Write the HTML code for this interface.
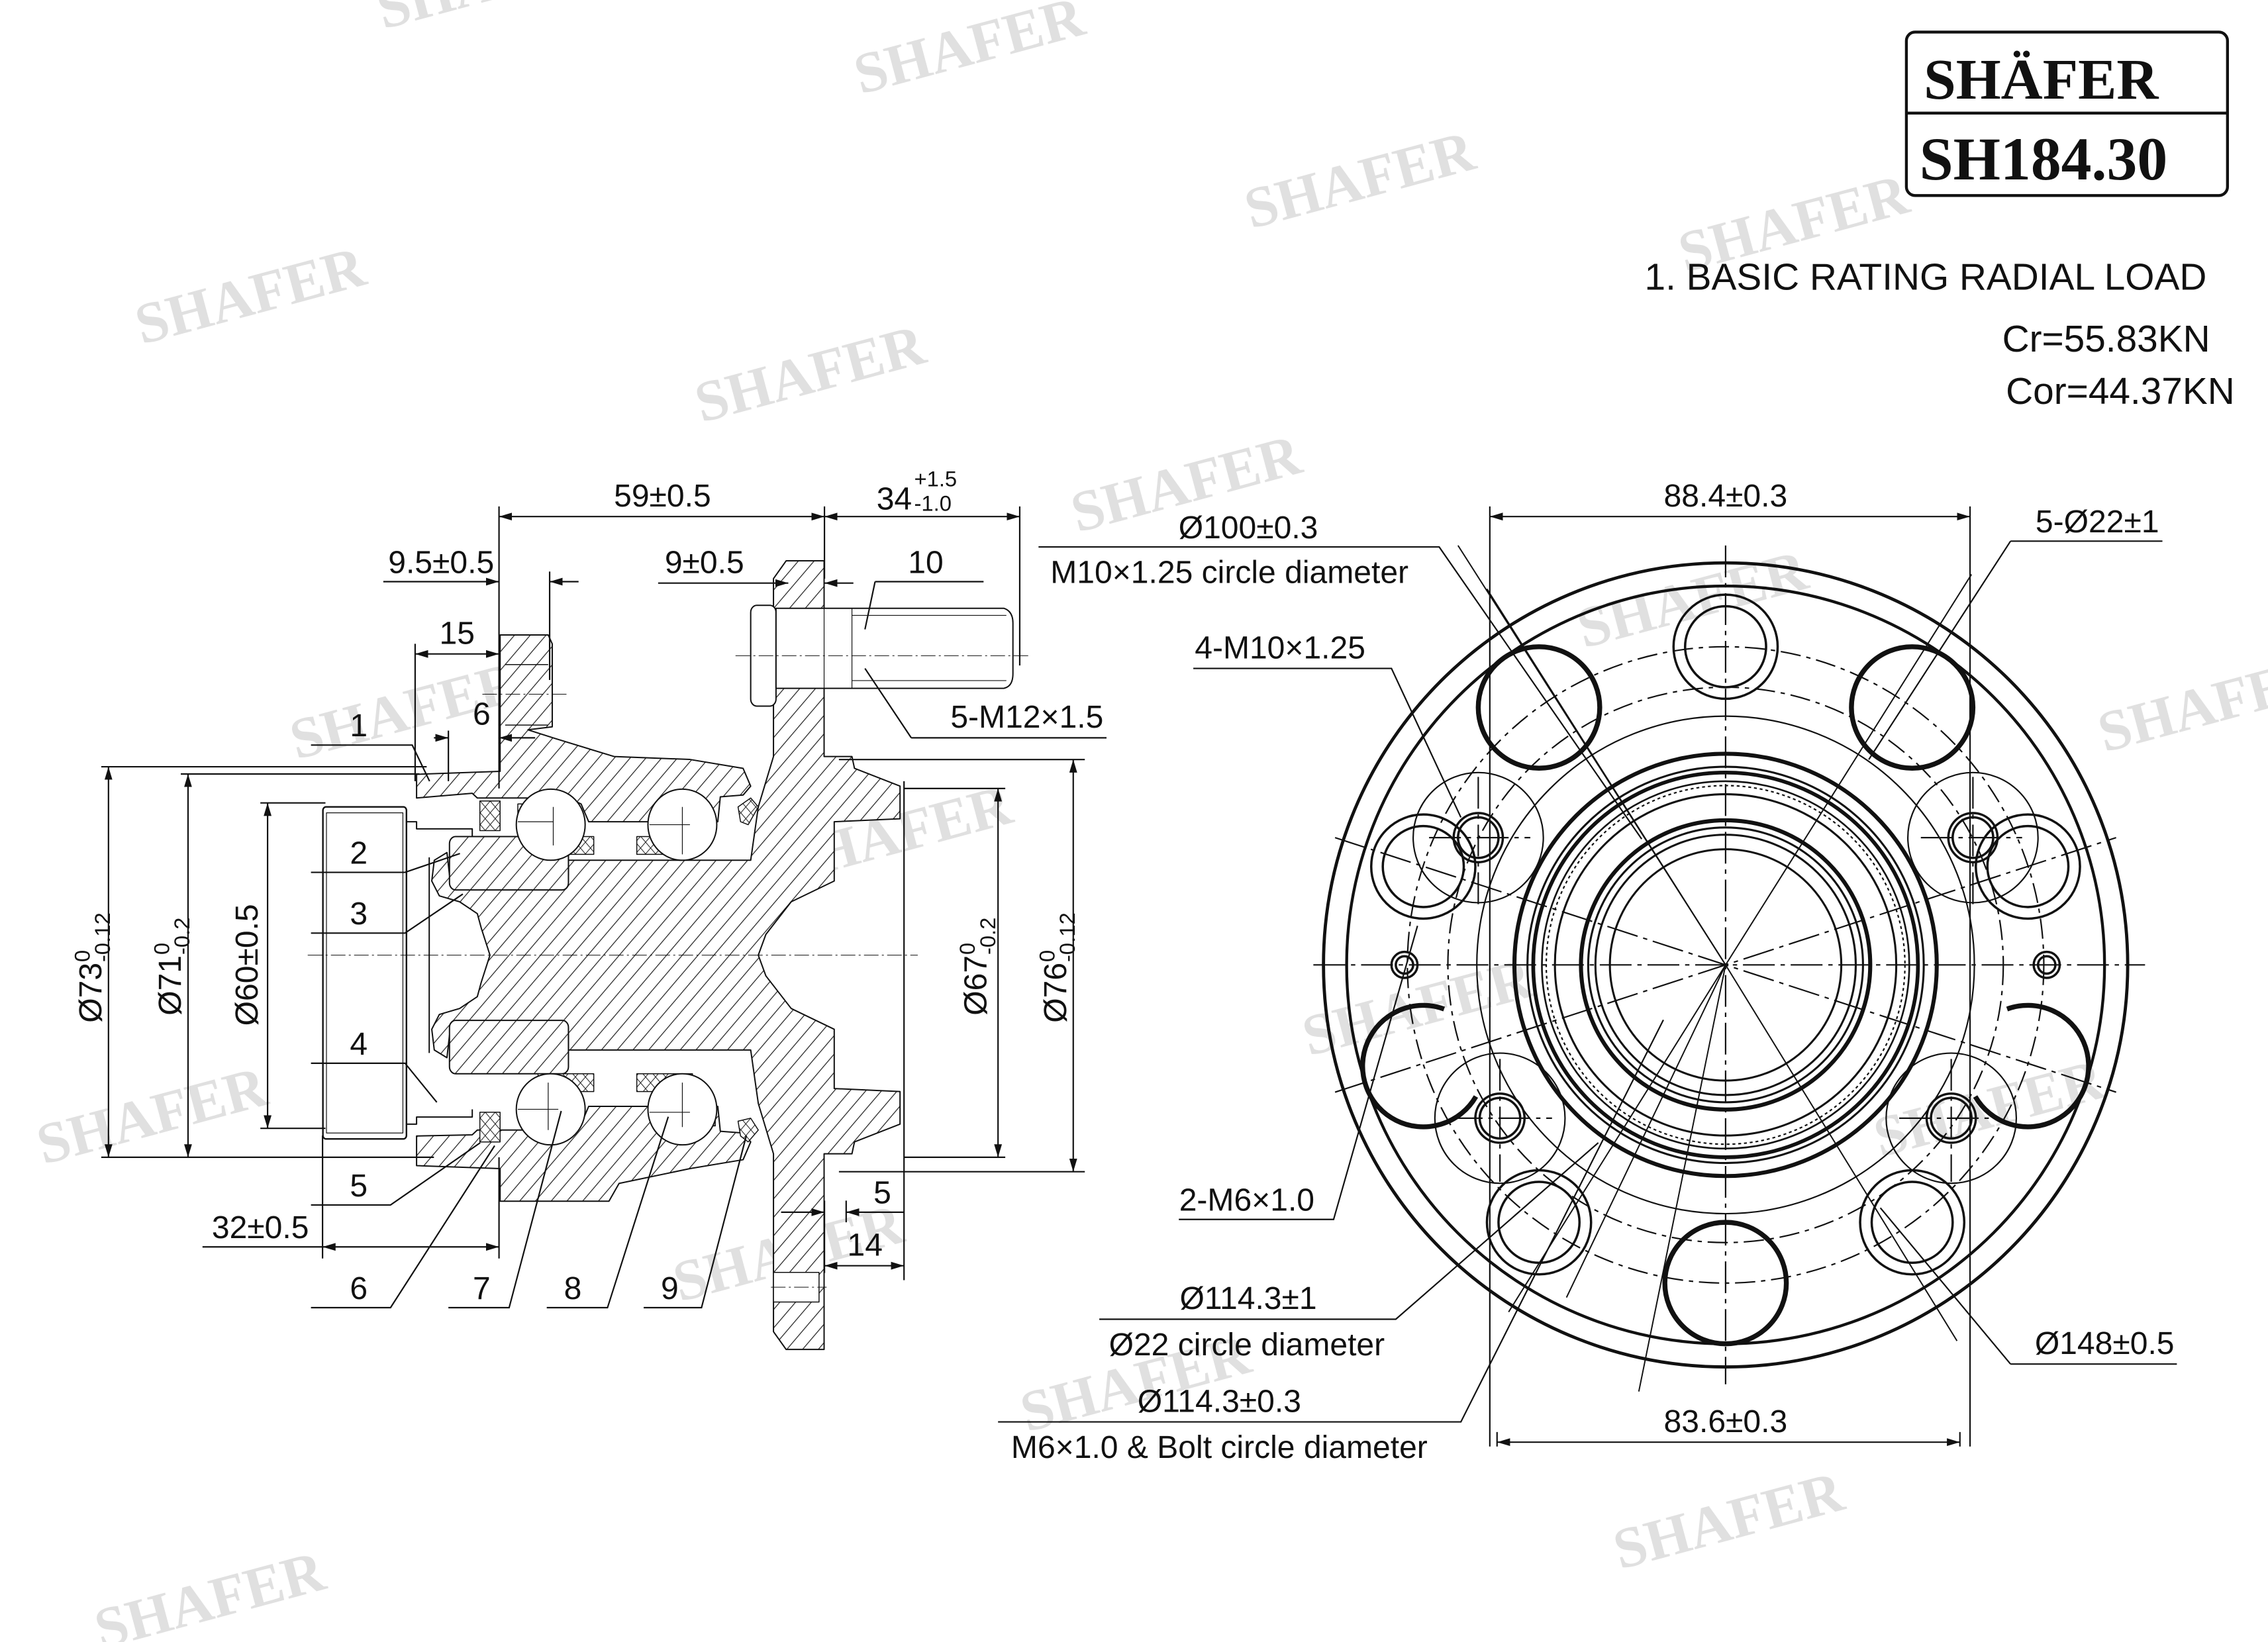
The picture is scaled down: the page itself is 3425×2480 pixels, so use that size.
<!DOCTYPE html>
<html><head><meta charset="utf-8"><style>
html,body{margin:0;padding:0;background:#fff}
svg{display:block}
text{font-family:"Liberation Sans",sans-serif;fill:#111}
text.wm{font-family:"Liberation Serif",serif;font-weight:bold;fill:#e0e0e0;font-size:40px}
</style></head><body>
<svg xmlns="http://www.w3.org/2000/svg" width="3425" height="2480" viewBox="0 0 1568 1135">
<defs>
<pattern id="h" patternUnits="userSpaceOnUse" width="22" height="22" patternTransform="rotate(45)">
<rect width="22" height="22" fill="#fff"/><line x1="0" y1="0" x2="0" y2="22" stroke="#222" stroke-width="3"/></pattern>
<pattern id="x" patternUnits="userSpaceOnUse" width="14" height="14" patternTransform="rotate(45)">
<rect width="14" height="14" fill="#fff"/><line x1="0" y1="0" x2="0" y2="14" stroke="#222" stroke-width="2.5"/><line x1="0" y1="0" x2="14" y2="0" stroke="#222" stroke-width="2.5"/></pattern>
<marker id="a" viewBox="0 0 10 10" refX="10" refY="5" markerWidth="9" markerHeight="9" markerUnits="userSpaceOnUse" orient="auto-start-reverse"><path d="M0,2 L10,5 L0,8 z" fill="#111"/></marker>
</defs>
<rect width="1568" height="1135" fill="#fff"/>

<!-- watermarks -->
<g>
<text class="wm" x="265" y="20" transform="rotate(-15 265 20)">SHAFER</text>
<text class="wm" x="595" y="65" transform="rotate(-15 595 65)">SHAFER</text>
<text class="wm" x="865" y="158" transform="rotate(-15 865 158)">SHAFER</text>
<text class="wm" x="98" y="238" transform="rotate(-15 98 238)">SHAFER</text>
<text class="wm" x="485" y="292" transform="rotate(-15 485 292)">SHAFER</text>
<text class="wm" x="745" y="368" transform="rotate(-15 745 368)">SHAFER</text>
<text class="wm" x="1165" y="188" transform="rotate(-15 1165 188)">SHAFER</text>
<text class="wm" x="1095" y="448" transform="rotate(-15 1095 448)">SHAFER</text>
<text class="wm" x="205" y="525" transform="rotate(-15 205 525)">SHAFER</text>
<text class="wm" x="545" y="610" transform="rotate(-15 545 610)">SHAFER</text>
<text class="wm" x="1455" y="520" transform="rotate(-15 1455 520)">SHAFER</text>
<text class="wm" x="30" y="805" transform="rotate(-15 30 805)">SHAFER</text>
<text class="wm" x="905" y="730" transform="rotate(-15 905 730)">SHAFER</text>
<text class="wm" x="1300" y="800" transform="rotate(-15 1300 800)">SHAFER</text>
<text class="wm" x="470" y="900" transform="rotate(-15 470 900)">SHAFER</text>
<text class="wm" x="710" y="990" transform="rotate(-15 710 990)">SHAFER</text>
<text class="wm" x="1120" y="1085" transform="rotate(-15 1120 1085)">SHAFER</text>
<text class="wm" x="70" y="1140" transform="rotate(-15 70 1140)">SHAFER</text>
</g>

<!-- title box -->
<rect x="1318" y="22" width="222" height="113" rx="6" fill="#fff" stroke="#111" stroke-width="2"/>
<line x1="1318" y1="78" x2="1540" y2="78" stroke="#111" stroke-width="2"/>
<text x="1330" y="68" style="font-family:'Liberation Serif',serif;font-weight:bold;font-size:40px">SHÄFER</text>
<text x="1327" y="124" style="font-family:'Liberation Serif',serif;font-weight:bold;font-size:42px">SH184.30</text>

<text x="1137" y="200" font-size="26">1. BASIC RATING RADIAL LOAD</text>
<text x="1528" y="243" font-size="26" text-anchor="end">Cr=55.83KN</text>
<text x="1545" y="279" font-size="26" text-anchor="end">Cor=44.37KN</text>

<!-- LEFT VIEW geometry (zoom coords mapped) -->
<g transform="matrix(0.35,0,0,0.41,183,322)" stroke="#111" stroke-linejoin="round">
<g stroke-width="2" vector-effect="non-scaling-stroke">
<path vector-effect="non-scaling-stroke" stroke-width="2" fill="url(#h)" d="M445,825 L428,780 420,755 385,735 345,725 330,700 335,665 360,652 365,690 600,690 600,665 960,665 975,575 1005,490 1005,190 1030,160 1105,160 1105,490 1160,490 1165,510 1255,540 1255,595 1125,600 1125,700 1040,735 990,790 975,825 990,860 1040,915 1125,950 1125,1050 1255,1055 1255,1110 1165,1140 1160,1160 1105,1160 1105,1490 1030,1490 1005,1460 1005,1160 975,1075 960,985 600,985 600,960 365,960 360,998 335,985 330,950 345,925 385,915 420,895 428,870 Z"/>
<path vector-effect="non-scaling-stroke" stroke-width="2" fill="url(#h)" d="M300,520 L465,515 465,285 560,285 568,300 568,440 520,445 575,460 690,490 840,495 945,510 960,540 945,555 900,558 895,600 640,600 625,570 600,560 420,560 410,552 300,560 Z"/>
<path vector-effect="non-scaling-stroke" stroke-width="2" fill="url(#h)" d="M300,1130 L410,1128 420,1120 600,1120 625,1110 640,1080 895,1080 900,1122 945,1125 960,1140 945,1170 840,1185 700,1210 680,1240 465,1240 465,1185 300,1180 Z"/>
<rect vector-effect="non-scaling-stroke" stroke-width="2" x="365" y="625" width="235" height="90" rx="12" fill="url(#h)"/>
<rect vector-effect="non-scaling-stroke" stroke-width="2" x="365" y="935" width="235" height="90" rx="12" fill="url(#h)"/>
<rect vector-effect="non-scaling-stroke" stroke-width="1.5" x="500" y="570" width="95" height="28" fill="url(#x)"/>
<rect vector-effect="non-scaling-stroke" stroke-width="1.5" x="540" y="625" width="110" height="30" fill="url(#x)"/>
<rect vector-effect="non-scaling-stroke" stroke-width="1.5" x="735" y="625" width="110" height="30" fill="url(#x)"/>
<rect vector-effect="non-scaling-stroke" stroke-width="1.5" x="540" y="1025" width="110" height="30" fill="url(#x)"/>
<rect vector-effect="non-scaling-stroke" stroke-width="1.5" x="735" y="1025" width="110" height="30" fill="url(#x)"/>
<rect vector-effect="non-scaling-stroke" stroke-width="1.5" x="790" y="1085" width="100" height="28" fill="url(#x)"/>
<ellipse vector-effect="non-scaling-stroke" stroke-width="2" cx="565" cy="605" rx="68" ry="60" fill="#fff"/>
<ellipse vector-effect="non-scaling-stroke" stroke-width="2" cx="825" cy="605" rx="68" ry="60" fill="#fff"/>
<ellipse vector-effect="non-scaling-stroke" stroke-width="2" cx="565" cy="1085" rx="68" ry="60" fill="#fff"/>
<ellipse vector-effect="non-scaling-stroke" stroke-width="2" cx="825" cy="1085" rx="68" ry="60" fill="#fff"/>
<path vector-effect="non-scaling-stroke" stroke-width="1.2" fill="none" d="M500,600 H570 M570,575 V640 M760,605 H840 M825,575 V655 M500,1085 H580 M560,1040 V1120 M760,1090 H840 M825,1040 V1115"/>
<rect vector-effect="non-scaling-stroke" stroke-width="1.5" x="425" y="565" width="40" height="50" fill="url(#x)"/>
<rect vector-effect="non-scaling-stroke" stroke-width="1.5" x="425" y="1090" width="40" height="50" fill="url(#x)"/>
<path vector-effect="non-scaling-stroke" stroke-width="1.5" fill="url(#x)" d="M935,575 L960,560 975,575 955,605 940,600 Z"/>
<path vector-effect="non-scaling-stroke" stroke-width="1.5" fill="url(#x)" d="M935,1105 L960,1100 975,1120 955,1140 940,1130 Z"/>
<rect vector-effect="non-scaling-stroke" stroke-width="2.4" x="115" y="575" width="165" height="560" rx="6" fill="#fff"/>
<rect vector-effect="non-scaling-stroke" stroke-width="1.2" x="122" y="585" width="151" height="540" fill="none"/>
<path vector-effect="non-scaling-stroke" stroke-width="2" fill="none" d="M280,600 L300,600 300,612 410,612 410,625 M280,1110 L300,1110 300,1098 410,1098 410,1085 M325,660 V990"/>
<rect vector-effect="non-scaling-stroke" stroke-width="2" x="960" y="235" width="50" height="170" rx="12" fill="#fff"/>
<path vector-effect="non-scaling-stroke" stroke-width="2" fill="#fff" d="M1010,240 H1460 Q1478,245 1478,265 V350 Q1478,372 1460,375 H1010 Z"/>
<path vector-effect="non-scaling-stroke" stroke-width="1.2" fill="none" d="M1105,240 V375 M1160,240 V375 M1160,252 H1465 M1160,362 H1465"/>
<rect vector-effect="non-scaling-stroke" stroke-width="1.5" x="1005" y="1360" width="90" height="50" fill="#fff"/>
<path vector-effect="non-scaling-stroke" stroke-width="1.5" fill="none" d="M475,335 H560 M475,437 H560"/>
<path vector-effect="non-scaling-stroke" stroke-width="1" stroke-dasharray="22 5 3 5" fill="none" d="M85,825 H1290 M930,320 H1510 M430,385 H600 M1000,1385 H1110"/>
</g></g>

<!-- LEFT VIEW dimensions -->
<g stroke="#111" stroke-width="1" fill="none">
<path d="M345,350 V545 M570,350 V400 M705,350 V460 M380,395 V470 M287,445 V540 M310,505 V540 M223,785 V870 M345,800 V870 M625,540 V885 M570,830 V880 M585,830 V845"/>
<path d="M70,530 H295 M70,800 H300 M125,535 H290 M125,800 H290 M180,555 H225 M180,780 H225 M625,545 H695 M625,800 H695 M580,525 H750 M580,810 H750"/>
<line x1="345" y1="357" x2="570" y2="357" marker-start="url(#a)" marker-end="url(#a)"/>
<line x1="570" y1="357" x2="705" y2="357" marker-start="url(#a)" marker-end="url(#a)"/>
<line x1="265" y1="402" x2="345" y2="402" marker-end="url(#a)"/><line x1="400" y1="402" x2="380" y2="402" marker-end="url(#a)"/>
<line x1="455" y1="403" x2="545" y2="403" marker-end="url(#a)"/><line x1="590" y1="403" x2="570" y2="403" marker-end="url(#a)"/>
<line x1="287" y1="452" x2="345" y2="452" marker-start="url(#a)" marker-end="url(#a)"/>
<line x1="300" y1="510" x2="310" y2="510" marker-end="url(#a)"/><line x1="370" y1="510" x2="345" y2="510" marker-end="url(#a)"/>
<line x1="140" y1="862" x2="223" y2="862"/><line x1="223" y1="862" x2="345" y2="862" marker-start="url(#a)" marker-end="url(#a)"/>
<line x1="540" y1="838" x2="570" y2="838" marker-end="url(#a)"/><line x1="625" y1="838" x2="585" y2="838" marker-end="url(#a)"/>
<line x1="570" y1="875" x2="625" y2="875" marker-start="url(#a)" marker-end="url(#a)"/>
<line x1="75" y1="530" x2="75" y2="800" marker-start="url(#a)" marker-end="url(#a)"/>
<line x1="130" y1="535" x2="130" y2="800" marker-start="url(#a)" marker-end="url(#a)"/>
<line x1="185" y1="555" x2="185" y2="780" marker-start="url(#a)" marker-end="url(#a)"/>
<line x1="690" y1="545" x2="690" y2="800" marker-start="url(#a)" marker-end="url(#a)"/>
<line x1="742" y1="525" x2="742" y2="810" marker-start="url(#a)" marker-end="url(#a)"/>
<path d="M605,402 H680 M605,402 L598,435 M630,510 H765 M630,510 L598,462 M215,515 H285 L297,540 M215,603 H280 L318,590 M215,645 H280 L320,618 M215,735 H280 L302,762 M215,833 H270 L332,790 M215,904 H270 L342,792 M310,904 H352 L388,768 M378,904 H420 L462,772 M445,904 H485 L516,785"/>
</g>
<g font-size="22">
<text x="458" y="350" text-anchor="middle">59±0.5</text>
<text x="606" y="352">34</text><text x="632" y="336" font-size="15">+1.5</text><text x="632" y="353" font-size="15">-1.0</text>
<text x="305" y="396" text-anchor="middle">9.5±0.5</text>
<text x="487" y="396" text-anchor="middle">9±0.5</text>
<text x="640" y="396" text-anchor="middle">10</text>
<text x="710" y="503" text-anchor="middle">5-M12×1.5</text>
<text x="316" y="445" text-anchor="middle">15</text>
<text x="333" y="501" text-anchor="middle">6</text>
<text x="248" y="509" text-anchor="middle">1</text>
<text x="248" y="597" text-anchor="middle">2</text>
<text x="248" y="639" text-anchor="middle">3</text>
<text x="248" y="729" text-anchor="middle">4</text>
<text x="248" y="827" text-anchor="middle">5</text>
<text x="248" y="898" text-anchor="middle">6</text>
<text x="333" y="898" text-anchor="middle">7</text>
<text x="396" y="898" text-anchor="middle">8</text>
<text x="463" y="898" text-anchor="middle">9</text>
<text x="180" y="856" text-anchor="middle">32±0.5</text>
<text x="610" y="832" text-anchor="middle">5</text>
<text x="598" y="868" text-anchor="middle">14</text>
<g transform="translate(70,667) rotate(-90)"><text x="-40" y="0">Ø73</text><text x="2" y="-8" font-size="15">0</text><text x="2" y="6" font-size="15">-0.12</text></g>
<g transform="translate(125,667) rotate(-90)"><text x="-35" y="0">Ø71</text><text x="7" y="-8" font-size="15">0</text><text x="7" y="6" font-size="15">-0.2</text></g>
<g transform="translate(178,667) rotate(-90)"><text x="0" y="0" text-anchor="middle">Ø60±0.5</text></g>
<g transform="translate(682,667) rotate(-90)"><text x="-35" y="0">Ø67</text><text x="7" y="-8" font-size="15">0</text><text x="7" y="6" font-size="15">-0.2</text></g>
<g transform="translate(737,667) rotate(-90)"><text x="-40" y="0">Ø76</text><text x="2" y="-8" font-size="15">0</text><text x="2" y="6" font-size="15">-0.12</text></g>
</g>

<!-- RIGHT VIEW -->
<g transform="translate(1193,667)" fill="none" stroke="#111">
<circle r="278" stroke-width="2.2"/>
<circle r="262" stroke-width="2"/>
<g stroke-width="1" stroke-dasharray="14 4 3 4"><circle r="220"/><circle r="192"/></g>
<circle r="172" stroke-width="1"/>
<g stroke-width="1">
<circle cx="-171" cy="-88" r="45"/><circle cx="171" cy="-88" r="45"/><circle cx="-156" cy="106" r="45"/><circle cx="156" cy="106" r="45"/>
</g>
<g stroke-width="1.6">
<circle cx="0" cy="-220" r="36"/><circle cx="0" cy="-220" r="28"/>
<circle cx="209" cy="-68" r="36"/><circle cx="209" cy="-68" r="28"/>
<circle cx="129" cy="178" r="36"/><circle cx="129" cy="178" r="28"/>
<circle cx="-129" cy="178" r="36"/><circle cx="-129" cy="178" r="28"/>
<circle cx="-209" cy="-68" r="36"/><circle cx="-209" cy="-68" r="28"/>
</g>
<g stroke-width="3.4">
<circle cx="0" cy="220" r="42"/>
<circle cx="-129" cy="-178" r="42"/>
<circle cx="129" cy="-178" r="42"/>
<path d="M-194.6,30.5 A42,42 0 1 0 -172.6,91"/>
<path d="M194.6,30.5 A42,42 0 1 1 172.6,91"/>
</g>
<g stroke-width="1.6">
<circle cx="-171" cy="-88" r="17"/><circle cx="-171" cy="-88" r="14"/>
<circle cx="171" cy="-88" r="17"/><circle cx="171" cy="-88" r="14"/>
<circle cx="-156" cy="106" r="17"/><circle cx="-156" cy="106" r="14"/>
<circle cx="156" cy="106" r="17"/><circle cx="156" cy="106" r="14"/>
<circle cx="-222" cy="0" r="9"/><circle cx="-222" cy="0" r="6"/>
<circle cx="222" cy="0" r="9"/><circle cx="222" cy="0" r="6"/>
</g>
<circle r="146" stroke-width="2.8"/>
<circle r="137" stroke-width="1.4"/>
<circle r="133" stroke-width="2.6"/>
<circle r="127" stroke-width="1.2"/>
<circle r="124" stroke-width="1" stroke-dasharray="2 2"/>
<circle r="118" stroke-width="1.4"/>
<circle r="100" stroke-width="2.8"/>
<circle r="95" stroke-width="1.4"/>
<circle r="90" stroke-width="1.4"/>
<circle r="80" stroke-width="1.4"/>
<g stroke-width="1" stroke-dasharray="22 4 3 4">
<line x1="-285" y1="0" x2="290" y2="0"/><line x1="0" y1="-290" x2="0" y2="290"/>
<line x1="-270" y1="-88" x2="270" y2="88"/><line x1="-270" y1="88" x2="270" y2="-88"/>
<line x1="-205" y1="-88" x2="-135" y2="-88"/><line x1="135" y1="-88" x2="205" y2="-88"/>
<line x1="-190" y1="106" x2="-120" y2="106"/><line x1="120" y1="106" x2="190" y2="106"/>
<line x1="-171" y1="-130" x2="-171" y2="-40"/><line x1="171" y1="-130" x2="171" y2="-40"/>
<line x1="-156" y1="65" x2="-156" y2="150"/><line x1="156" y1="65" x2="156" y2="150"/>
</g>
<g stroke-width="0.9">
<line x1="0" y1="0" x2="-165" y2="-260"/><line x1="0" y1="0" x2="160" y2="260"/>
<line x1="0" y1="0" x2="-150" y2="240"/><line x1="0" y1="0" x2="170" y2="-270"/>
<line x1="0" y1="0" x2="-185" y2="-290"/><line x1="0" y1="0" x2="-110" y2="230"/>
<line x1="0" y1="0" x2="-60" y2="295"/>
</g>
</g>
<g stroke="#111" stroke-width="1" fill="none">
<path d="M1030,350 V1000 M1362,350 V1000 M1035,990 V1000 M1355,990 V1000"/>
<line x1="1030" y1="357" x2="1362" y2="357" marker-start="url(#a)" marker-end="url(#a)"/>
<line x1="1035" y1="997" x2="1355" y2="997" marker-start="url(#a)" marker-end="url(#a)"/>
<path d="M718,378 H995 L1135,580 M825,462 H962 L1010,565 M1390,374 H1495 M1390,374 L1292,525 M815,843 H922 L980,640 M760,912 H965 L1105,790 M690,983 H1010 L1150,705 M1390,943 H1505 M1390,943 L1300,835"/>
</g>
<g font-size="22">
<text x="1193" y="350" text-anchor="middle">88.4±0.3</text>
<text x="1193" y="990" text-anchor="middle">83.6±0.3</text>
<text x="863" y="372" text-anchor="middle">Ø100±0.3</text>
<text x="850" y="403" text-anchor="middle">M10×1.25 circle diameter</text>
<text x="885" y="455" text-anchor="middle">4-M10×1.25</text>
<text x="1450" y="368" text-anchor="middle">5-Ø22±1</text>
<text x="862" y="837" text-anchor="middle">2-M6×1.0</text>
<text x="863" y="905" text-anchor="middle">Ø114.3±1</text>
<text x="862" y="937" text-anchor="middle">Ø22 circle diameter</text>
<text x="843" y="976" text-anchor="middle">Ø114.3±0.3</text>
<text x="843" y="1008" text-anchor="middle">M6×1.0 &amp; Bolt circle diameter</text>
<text x="1455" y="936" text-anchor="middle">Ø148±0.5</text>
</g>
</svg>
</body></html>
